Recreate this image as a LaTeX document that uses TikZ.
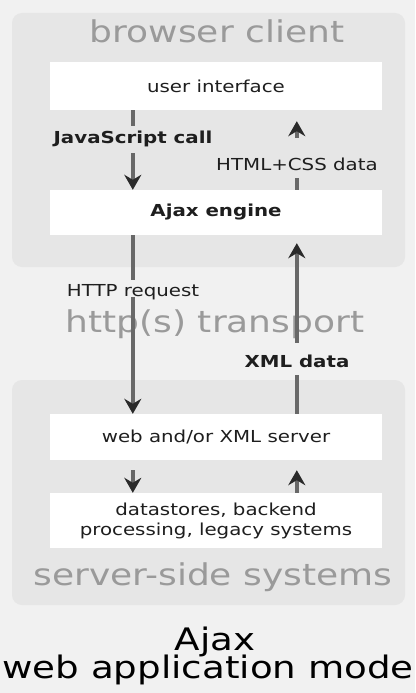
\documentclass[tikz,border=0pt]{standalone}
\usepackage{fontspec}
\setmainfont{DejaVu Sans}[FakeStretch=1.2]
\usetikzlibrary{arrows.meta}
\definecolor{bgc}{HTML}{F1F1F1}
\definecolor{panelc}{HTML}{E6E6E6}
\definecolor{titlec}{HTML}{9A9A9A}
\definecolor{shaftc}{HTML}{686868}
\definecolor{headc}{HTML}{2A2A2A}
\definecolor{txtc}{HTML}{1E1E1E}
\tikzset{
  panel/.style={fill=panelc, draw=none, rounded corners=10pt},
  whitebox/.style={fill=white, draw=none, minimum width=332pt, inner sep=0pt, text=txtc, font=\fontsize{16.5}{20}\selectfont, align=center},
  bigtitle/.style={text=titlec, font=\fontsize{30}{36}\selectfont, anchor=base, inner sep=0pt},
  bigblack/.style={text=black, font=\fontsize{31}{36}\selectfont, anchor=base, inner sep=0pt},
  flowarrow/.style={draw=shaftc, line width=3.5pt, -{Stealth[length=15pt, width=17pt, inset=5pt, color=headc, fill=headc]}},
  lab/.style={anchor=base, inner xsep=2pt, inner ysep=0pt, text=txtc, font=\fontsize{16.5}{20}\selectfont}
}
\begin{document}
\begin{tikzpicture}[x=1pt, y=-1pt]
\useasboundingbox (0,0) rectangle (415,693);
\fill[bgc] (0,0) rectangle (415,693);

% panels
\path[panel] (12,13) rectangle (405,267);
\path[panel] (12,380) rectangle (405,605);

% titles
\node[bigtitle] (tclient) at (217,43) {browser client};
\node[bigtitle] (ttrans) at (215,332) {http(s) transport};
\node[bigtitle] (tserver) at (213,585) {server-side systems};

% boxes
\node[whitebox, minimum height=48pt] (ui) at (216,86) {user interface};
\node[whitebox, minimum height=45pt, font=\fontsize{16.5}{20}\selectfont\bfseries] (ajax) at (216,212.5) {Ajax engine};
\node[whitebox, minimum height=46pt] (srv) at (216,437) {web and/or XML server};
\node[whitebox, minimum height=55pt] (ds) at (216,520.5) {datastores, backend\\processing, legacy systems};

% arrows
\draw[flowarrow] ([xshift=83pt]ui.south west) -- ([xshift=83pt]ajax.north west);
\draw[flowarrow, shorten >=11pt] ([xshift=247pt]ajax.north west) -- ([xshift=247pt]ui.south west);
\draw[flowarrow] ([xshift=83pt]ajax.south west) -- ([xshift=83pt]srv.north west);
\draw[flowarrow, shorten >=8pt] ([xshift=247pt]srv.north west) -- ([xshift=247pt]ajax.south west);
\draw[flowarrow, shorten <=10pt] ([xshift=83pt]srv.south west) -- ([xshift=83pt]ds.north west);
\draw[flowarrow, shorten >=10pt] ([xshift=247pt]ds.north west) -- ([xshift=247pt]srv.south west);

% arrow labels
\node[lab, fill=panelc, text height=17pt, text depth=10pt, font=\fontsize{16.5}{20}\selectfont\bfseries] (ljs) at (133,143) {JavaScript call};
\node[lab, fill=panelc, text height=32pt, text depth=8pt] (lhtml) at (297,170) {HTML+CSS data};
\node[lab, fill=bgc, text height=16pt, text depth=1pt] (lhttp) at (133,296) {HTTP request};
\node[lab, fill=bgc, text height=24pt, text depth=8pt, font=\fontsize{16.5}{20}\selectfont\bfseries] (lxml) at (297,367) {XML data};

% caption
\node[bigblack] (cap1) at (215,650) {Ajax};
\node[bigblack] (cap2) at (208,678) {web application mode};
\end{tikzpicture}
\end{document}
